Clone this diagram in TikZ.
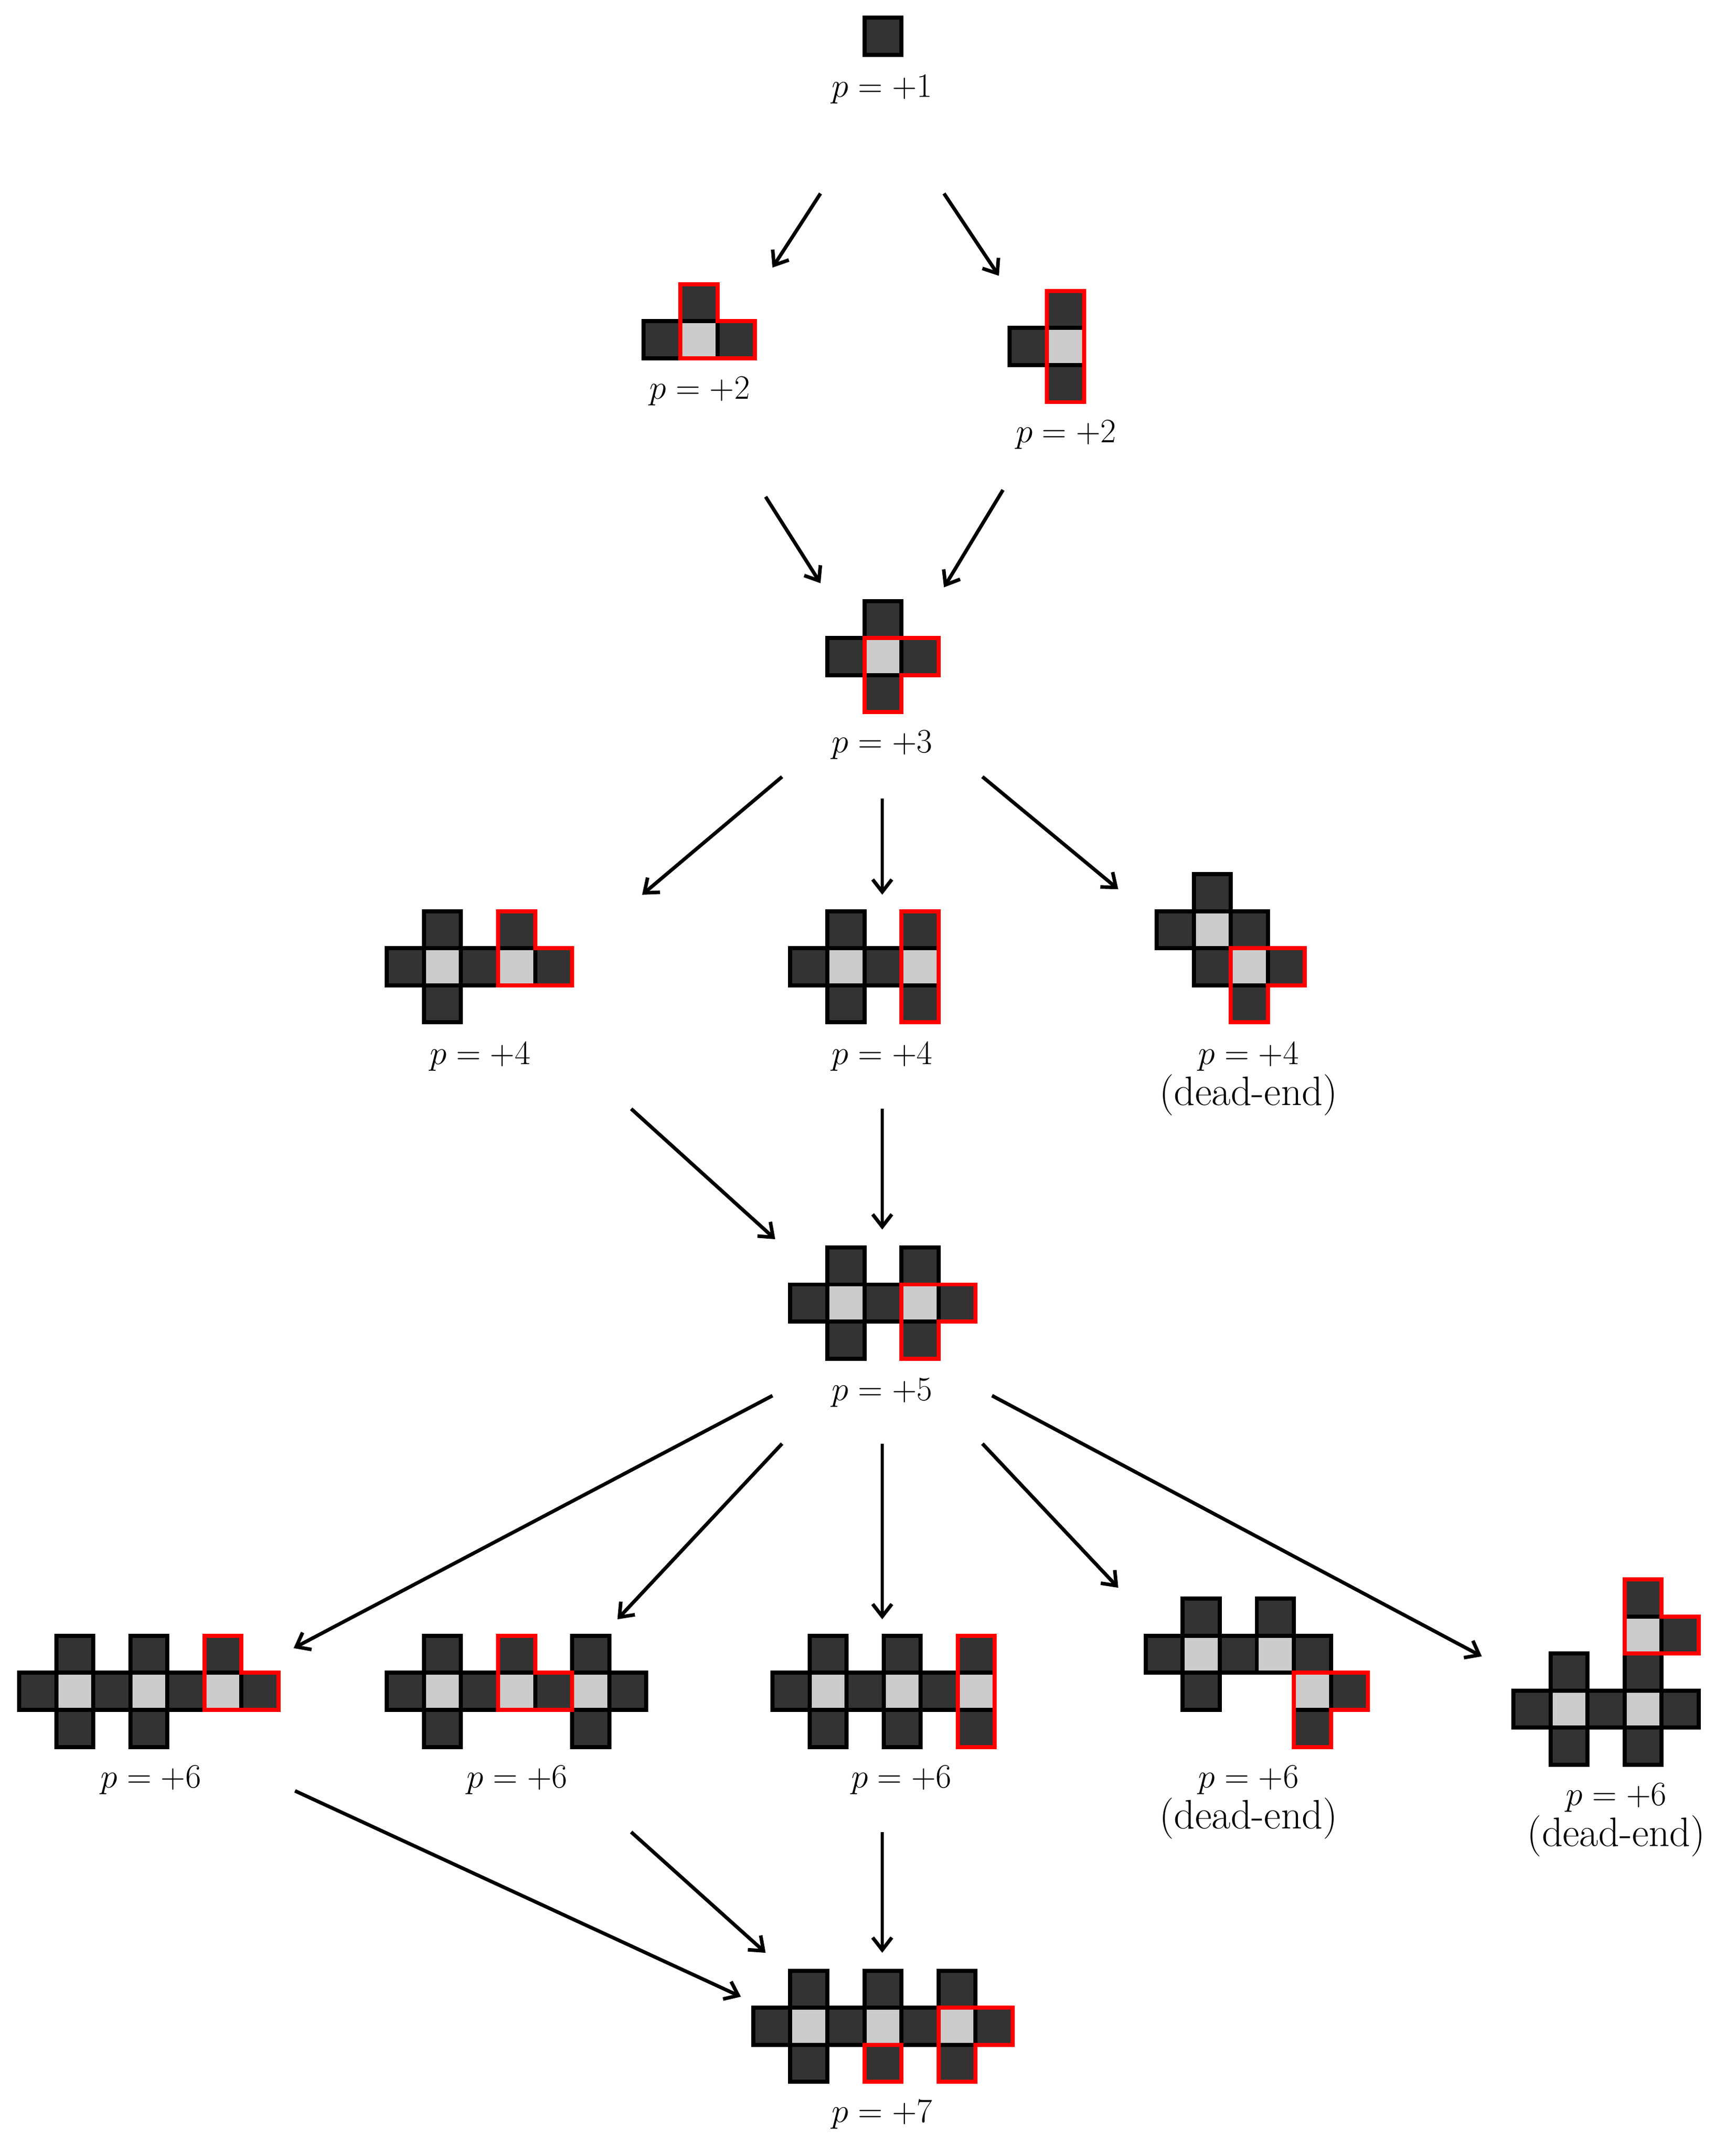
\documentclass[tikz,border=0pt]{standalone}
\usetikzlibrary{arrows.meta}
\definecolor{dkc}{HTML}{333333}
\definecolor{ltc}{HTML}{CCCCCC}
\newcommand\dk[2]{\draw[cellst,fill=dkc] (#1,#2) rectangle ++(27,27);}
\newcommand\lt[2]{\draw[cellst,fill=ltc] (#1,#2) rectangle ++(27,27);}
\newcommand\plus[2]{\dk{#1}{#2-27}\dk{#1-27}{#2}\dk{#1+27}{#2}\dk{#1}{#2+27}\lt{#1}{#2}}
\tikzset{cellst/.style={draw=black,line width=3pt},
 redst/.style={draw=red,line width=3pt,line join=miter},
 lab/.style={font=\fontsize{30}{34}\selectfont,inner sep=0pt},
 arr/.style={line width=2.6pt,-{Straight Barb[length=9pt,width=14pt,line width=2.6pt]}}}
\begin{document}
\begin{tikzpicture}[x=1pt,y=-1pt]
\useasboundingbox (0,0) rectangle (1265,1566);
% fig1
\dk{630}{13}
\node[lab] (l1) at (643,65) {$p=+1$};
% fig2a
\dk{496}{207}\dk{469}{234}\lt{496}{234}\dk{523}{234}
\draw[redst] (496,207)--(523,207)--(523,234)--(550,234)--(550,261)--(496,261)--cycle;
\node[lab] (l2a) at (510,285) {$p=+2$};
% fig2b
\dk{763}{212}\dk{736}{239}\lt{763}{239}\dk{763}{266}
\draw[redst] (763,212) rectangle (790,293);
\node[lab] (l2b) at (777,317) {$p=+2$};
% fig3
\plus{630}{465}
\draw[redst] (630,465)--(684,465)--(684,492)--(657,492)--(657,519)--(630,519)--cycle;
\node[lab] (l3) at (643,543) {$p=+3$};
% fig4a
\plus{309}{691}\dk{363}{664}\lt{363}{691}\dk{390}{691}
\draw[redst] (363,664)--(390,664)--(390,691)--(417,691)--(417,718)--(363,718)--cycle;
\node[lab] (l4a) at (350,770) {$p=+4$};
% fig4b
\plus{603}{691}\dk{657}{664}\lt{657}{691}\dk{657}{718}
\draw[redst] (657,664) rectangle (684,745);
\node[lab] (l4b) at (643,770) {$p=+4$};
% fig4c
\plus{870}{664}\lt{897}{691}\dk{924}{691}\dk{897}{718}
\draw[redst] (897,691)--(951,691)--(951,718)--(924,718)--(924,745)--(897,745)--cycle;
\node[lab] (l4c) at (910,770) {$p=+4$};
\node[lab] (d4c) at (910,798) {(dead-end)};
% fig5
\plus{603}{936}\dk{657}{909}\lt{657}{936}\dk{684}{936}\dk{657}{963}
\draw[redst] (657,936)--(711,936)--(711,963)--(684,963)--(684,990)--(657,990)--cycle;
\node[lab] (l5) at (643,1015) {$p=+5$};
% fig6a
\plus{41}{1219}\dk{95}{1192}\lt{95}{1219}\dk{95}{1246}\dk{122}{1219}
\dk{149}{1192}\lt{149}{1219}\dk{176}{1219}
\draw[redst] (149,1192)--(176,1192)--(176,1219)--(203,1219)--(203,1246)--(149,1246)--cycle;
\node[lab] (l6a) at (110,1297) {$p=+6$};
% fig6b
\plus{309}{1219}\dk{363}{1192}\lt{363}{1219}\dk{390}{1219}
\dk{417}{1192}\lt{417}{1219}\dk{444}{1219}\dk{417}{1246}
\draw[redst] (363,1192)--(390,1192)--(390,1219)--(417,1219)--(417,1246)--(363,1246)--cycle;
\node[lab] (l6b) at (377,1297) {$p=+6$};
% fig6c
\plus{590}{1219}\dk{644}{1192}\lt{644}{1219}\dk{644}{1246}\dk{671}{1219}
\dk{698}{1192}\lt{698}{1219}\dk{698}{1246}
\draw[redst] (698,1192) rectangle (725,1273);
\node[lab] (l6c) at (657,1297) {$p=+6$};
% fig6d
\plus{862}{1192}\dk{916}{1165}\lt{916}{1192}\dk{943}{1192}
\lt{943}{1219}\dk{970}{1219}\dk{943}{1246}
\draw[redst] (943,1219)--(997,1219)--(997,1246)--(970,1246)--(970,1273)--(943,1273)--cycle;
\node[lab] (l6d) at (910,1297) {$p=+6$};
\node[lab] (d6d) at (910,1325) {(dead-end)};
% fig6e
\plus{1130}{1232}\dk{1184}{1205}\lt{1184}{1232}\dk{1211}{1232}\dk{1184}{1259}
\dk{1184}{1151}\lt{1184}{1178}\dk{1211}{1178}
\draw[redst] (1184,1151)--(1211,1151)--(1211,1178)--(1238,1178)--(1238,1205)--(1184,1205)--cycle;
\node[lab] (l6e) at (1178,1310) {$p=+6$};
\node[lab] (d6e) at (1178,1338) {(dead-end)};
% fig7
\plus{576}{1463}\dk{630}{1436}\lt{630}{1463}\dk{657}{1463}\dk{630}{1490}
\dk{684}{1436}\lt{684}{1463}\dk{711}{1463}\dk{684}{1490}
\draw[redst] (630,1490) rectangle (657,1517);
\draw[redst] (684,1463)--(738,1463)--(738,1490)--(711,1490)--(711,1517)--(684,1517)--cycle;
\node[lab] (l7) at (643,1541) {$p=+7$};
% arrow endpoints
\foreach \n/\x/\y in {a1/598/141,b1/563/195,a2/688/141,b2/728/201,
 a3/558/362,b3/598/425,a4/731/357,b4/688/428,
 a5/570/566,b5/468/652,a6/643/582,b6/643/652,a7/716/566,b7/815/648,
 a8/460/808,b8/565/903,a9/643/808,b9/643/896,
 a10/563/1017,b10/214/1201,a11/570/1052,b11/450/1180,a12/643/1052,b12/643/1180,
 a13/716/1052,b13/815/1157,a14/723/1017,b14/1080/1207,
 a15/215/1305,b15/540/1455,a16/460/1335,b16/558/1423,a17/643/1335,b17/643/1423}
 {\coordinate (\n) at (\x,\y);}
\foreach \i in {1,...,17} {\draw[arr] (a\i) -- (b\i);}
\end{tikzpicture}
\end{document}
